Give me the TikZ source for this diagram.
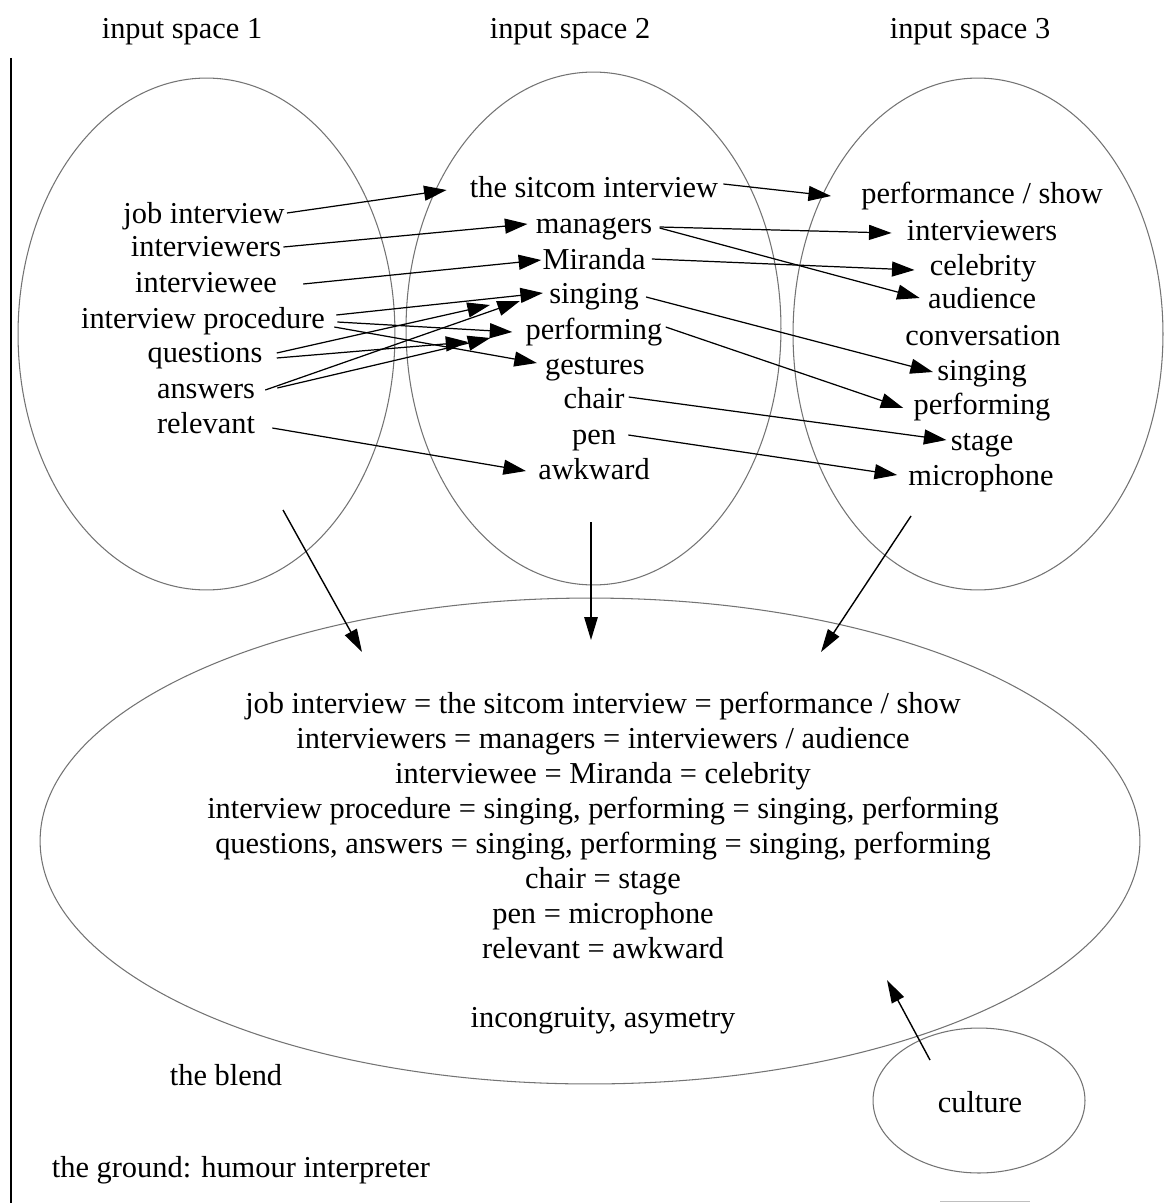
\documentclass[tikz,border=0pt]{standalone}
\usepackage{fontspec}
\setmainfont{Liberation Serif}
\usetikzlibrary{shapes.geometric,arrows.meta}
\begin{document}
\begin{tikzpicture}[x=0.02cm,y=-0.02cm,
  every node/.style={font=\fontsize{17.3}{20}\selectfont, inner sep=0pt,
                     text height=13.7pt, text depth=1.8pt},
  region/.style={ellipse, draw=black!55, line width=0.6pt, inner sep=0pt},
  arr/.style={-{Triangle[length=0.45cm,width=0.3cm]}, line width=0.7pt},
  bigarr/.style={-{Triangle[length=0.46cm,width=0.27cm]}, line width=0.8pt}]
\useasboundingbox (0,0) rectangle (1165,1203);

% frame line on the left
\coordinate (fa) at (11,58);
\coordinate (fb) at (11,1203);
\draw[line width=1.1pt] (fa) -- (fb);

% the mental spaces
\node[region, minimum width=7.54cm, minimum height=10.24cm] (sp1) at (206.5,334) {};
\node[region, minimum width=7.50cm, minimum height=10.26cm] (sp2) at (593.5,328.5) {};
\node[region, minimum width=7.40cm, minimum height=10.24cm] (sp3) at (978,334) {};
\node[region, minimum width=22.0cm, minimum height=9.72cm] (blend) at (590,841) {};
\node[region, minimum width=4.24cm, minimum height=2.90cm] (cult) at (979,1100.5) {};

% titles
\node (ti1) at (182,28) {input space 1};
\node (ti2) at (570,28) {input space 2};
\node (ti3) at (970,28) {input space 3};

% input space 1
\node (job)  at (204,213) {job interview};
\node (ivs)  at (206,246) {interviewers};
\node (ivee) at (206,282) {interviewee};
\node (proc) at (203,318) {interview procedure};
\node (qst)  at (205,352) {questions};
\node (ans)  at (206,388) {answers};
\node (rel)  at (206,423) {relevant};

% input space 2
\node (sit) at (594,187) {the sitcom interview};
\node (man) at (594,223) {managers};
\node (mir) at (594,259) {Miranda};
\node (sng) at (594,293) {singing};
\node (prf) at (594,329) {performing};
\node (ges) at (595,364) {gestures};
\node (chr) at (594,398) {chair};
\node (pen) at (594,434) {pen};
\node (awk) at (594,469) {awkward};

% input space 3
\node (show) at (982,193) {performance / show};
\node (ivs3) at (982,230) {interviewers};
\node (cel)  at (983,265) {celebrity};
\node (aud)  at (982,298) {audience};
\node (conv) at (983,335) {conversation};
\node (sng3) at (982,370) {singing};
\node (prf3) at (982,404) {performing};
\node (stg)  at (982,440) {stage};
\node (mic)  at (981,475) {microphone};

% blended space
\foreach \t [count=\i] in {
  {job interview = the sitcom interview = performance / show},
  {interviewers = managers = interviewers / audience},
  {interviewee = Miranda = celebrity},
  {interview procedure = singing, performing = singing, performing},
  {questions, answers = singing, performing = singing, performing},
  {chair = stage},
  {pen = microphone},
  {relevant = awkward}}
  \node (bl\i) at (603,668+35*\i) {\t};
\node (inc) at (603,1017) {incongruity, asymetry};
\node (blab) at (226,1075) {the blend};
\node (grd) at (241,1167) {the ground: humour interpreter};
\node (cul) at (980,1102) {culture};

% mappings between input spaces 1 and 2
\draw[arr] ([shift={(2,0)}]job.east)   -- ([shift={(-23,3)}]sit.west);
\draw[arr] ([shift={(2,1)}]ivs.east)   -- ([shift={(-8,1)}]man.west);
\draw[arr] ([shift={(26,2)}]ivee.east) -- ([shift={(-1,1)}]mir.west);
\draw[arr] ([shift={(11,-3)}]proc.east) -- ([shift={(-6,0)}]sng.west);
\draw[arr] ([shift={(12,4)}]proc.east) -- ([shift={(-13,3)}]prf.west);
\draw[arr] ([shift={(9,9)}]proc.east)  -- ([shift={(-8,-1)}]ges.west);
\draw[arr] ([shift={(14,1)}]qst.east)  -- ([shift={(-59,12)}]sng.west);
\draw[arr] ([shift={(14,6)}]qst.east)  -- ([shift={(-57,13)}]prf.west);
\draw[arr] ([shift={(10,2)}]ans.east)  -- ([shift={(-29,8)}]sng.west);
\draw[arr] ([shift={(22,0)}]ans.east)  -- ([shift={(-35,9)}]prf.west);
\draw[arr] ([shift={(17,5)}]rel.east)  -- ([shift={(-12,2)}]awk.west);

% mappings between input spaces 2 and 3
\draw[arr] ([shift={(5,-3)}]sit.east) -- ([shift={(-30,3)}]show.west);
\draw[arr] ([shift={(7,4)}]man.east)  -- ([shift={(-15,3)}]ivs3.west);
\draw[arr] ([shift={(7,5)}]man.east)  -- ([shift={(-8,0)}]aud.west);
\draw[arr] ([shift={(6,0)}]mir.east)  -- ([shift={(-15,5)}]cel.west);
\draw[arr] ([shift={(7,4)}]sng.east)  -- ([shift={(-4,2)}]sng3.west);
\draw[arr] ([shift={(3,-2)}]prf.east) -- ([shift={(-10,4)}]prf3.west);
\draw[arr] ([shift={(4,-1)}]chr.east) -- ([shift={(-4,0)}]stg.west);
\draw[arr] ([shift={(12,1)}]pen.east) -- ([shift={(-11,0)}]mic.west);

% projections into the blend
\coordinate (d1a) at (283,510);  \coordinate (d1b) at (362,652);
\coordinate (d2a) at (591,522);  \coordinate (d2b) at (591,640);
\coordinate (d3a) at (911,516);  \coordinate (d3b) at (821,652);
\coordinate (cua) at (930,1060); \coordinate (cub) at (887,980);
\draw[bigarr] (d1a) -- (d1b);
\draw[bigarr] (d2a) -- (d2b);
\draw[bigarr] (d3a) -- (d3b);
\draw[bigarr] (cua) -- (cub);

% fragment along the lower edge
\coordinate (ea) at (940,1201.5); \coordinate (eb) at (1030,1201.5);
\draw[black!25, line width=1pt] (ea) -- (eb);
\end{tikzpicture}
\end{document}
